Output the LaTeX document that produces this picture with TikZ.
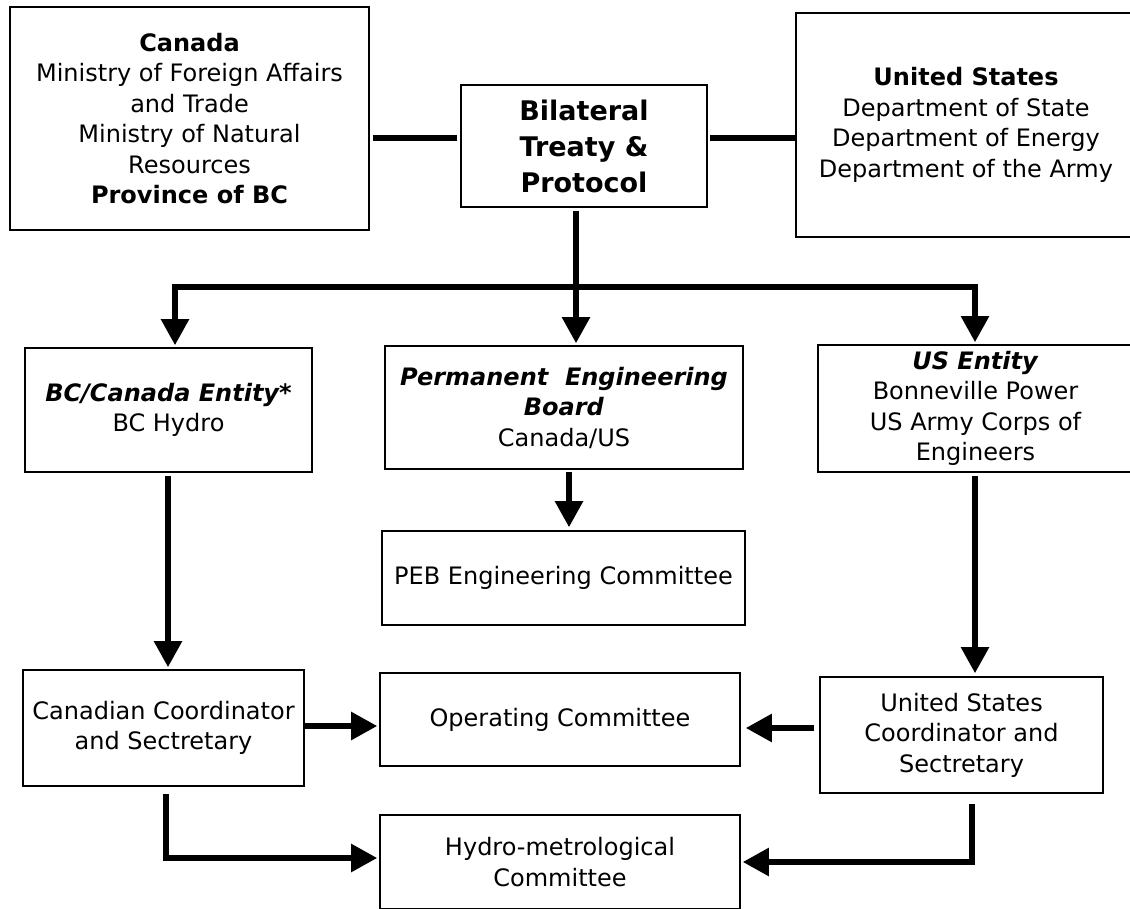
\documentclass[tikz,border=0pt]{standalone}
\usepackage{fontspec}
\setmainfont{DejaVu Sans}
\usetikzlibrary{arrows.meta}
\begin{document}
\begin{tikzpicture}[x=1pt,y=-1pt,
  box/.style={draw,line width=1.6pt,inner sep=0pt,align=center,
    font=\fontsize{24}{30.5}\selectfont},
  conn/.style={line width=5.5pt},
  arr/.style={conn,-{Triangle[length=26pt,width=27pt]}}]
\useasboundingbox (0,0) rectangle (1130,909);
% top row
\node[box,minimum width=359pt,minimum height=223pt] (can) at (189.5,118.5)
  {\textbf{Canada}\\Ministry of Foreign Affairs\\and Trade\\Ministry of Natural\\Resources\\\textbf{Province of BC}};
\node[box,minimum width=246pt,minimum height=122pt,font=\fontsize{27}{36}\selectfont\bfseries] (bil) at (584,146)
  {Bilateral\\Treaty \&\\Protocol};
\node[box,minimum width=340pt,minimum height=224pt] (ust) at (966,125)
  {\textbf{United States}\\Department of State\\Department of Energy\\Department of the Army};
% second row
\node[box,minimum width=287pt,minimum height=124pt] (bce) at (168.5,410)
  {\textbf{\textit{BC/Canada Entity*}}\\BC Hydro};
\node[box,minimum width=358pt,minimum height=123pt] (peb) at (564,407.5)
  {\textbf{\textit{Permanent\ \ Engineering}}\\\textbf{\textit{Board}}\\Canada/US};
\node[box,minimum width=315pt,minimum height=127pt] (use) at (975.5,408.5)
  {\textbf{\textit{US Entity}}\\Bonneville Power\\US Army Corps of\\Engineers};
% third row
\node[box,minimum width=363pt,minimum height=94pt] (pec) at (563.5,578)
  {PEB Engineering Committee};
% fourth row
\node[box,minimum width=281pt,minimum height=116pt] (cc) at (163.5,728)
  {Canadian Coordinator\\and Sectretary};
\node[box,minimum width=360pt,minimum height=93pt] (op) at (560,719.5)
  {Operating Committee};
\node[box,minimum width=283pt,minimum height=116pt] (usc) at (961.5,735)
  {United States\\Coordinator and\\Sectretary};
\node[box,minimum width=360pt,minimum height=94pt] (hyd) at (560,862)
  {Hydro-metrological\\Committee};
% helper coordinates
\coordinate (ty) at (0,138);
\coordinate (stem) at (576,0);
\coordinate (jl) at (175,287);
\coordinate (jr) at (975,287);
\coordinate (pebx) at (569,0);
\coordinate (lx) at (168,0);
\coordinate (rx) at (975,0);
\coordinate (y1) at (0,726);
\coordinate (y2) at (0,728);
\coordinate (clx) at (166,0);
\coordinate (crx) at (972,0);
\coordinate (hy1) at (0,858);
\coordinate (hy2) at (0,862);
% connectors
\draw[conn,shorten <=3pt,shorten >=3pt] (can.east |- ty) -- (bil.west |- ty);
\draw[conn,shorten <=2pt] (bil.east |- ty) -- (ust.west |- ty);
\draw[arr,shorten <=3pt,shorten >=2pt] (bil.south -| stem) -- (peb.north -| stem);
\draw[conn,line cap=rect] (jl) -- (jr);
\draw[arr,shorten >=2pt] (jl) -- (jl |- bce.north);
\draw[arr,shorten >=2pt] (jr) -- (jr |- use.north);
\draw[arr,shorten <=2pt,shorten >=3pt] (peb.south -| pebx) -- (pec.north -| pebx);
\draw[arr,shorten <=3pt,shorten >=2pt] (bce.south -| lx) -- (cc.north -| lx);
\draw[arr,shorten <=3pt,shorten >=3pt] (use.south -| rx) -- (usc.north -| rx);
\draw[arr,shorten >=2pt] (cc.east |- y1) -- (op.west |- y1);
\draw[arr,shorten <=5pt,shorten >=5pt] (usc.west |- y2) -- (op.east |- y2);
\draw[arr,shorten <=7pt,shorten >=2pt] (cc.south -| clx) |- (hyd.west |- hy1);
\draw[arr,shorten <=10pt,shorten >=2pt] (usc.south -| crx) |- (hyd.east |- hy2);
\end{tikzpicture}
\end{document}
